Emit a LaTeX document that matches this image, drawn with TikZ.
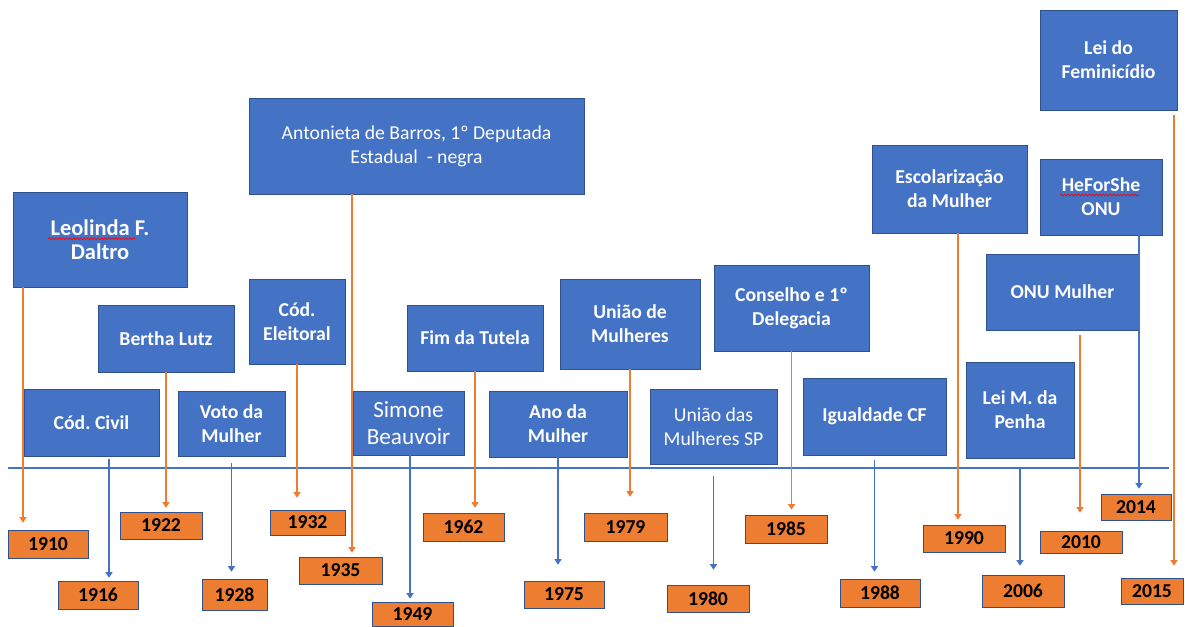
\documentclass[tikz,border=0pt]{standalone}
\usepackage{fontspec}
\setmainfont{Carlito}
\frenchspacing
\usetikzlibrary{arrows.meta,decorations.pathmorphing}
\definecolor{boxblue}{HTML}{4472C4}
\definecolor{edgeblue}{HTML}{2F528F}
\definecolor{boxorange}{HTML}{ED7D31}
\begin{document}
\begin{tikzpicture}[x = 0.025cm, y = -0.025cm,
    eventbox/.style = {draw = edgeblue, fill = boxblue, text = white, align = center, inner sep = 0pt, font = \fontsize{14}{17}\selectfont\bfseries},
    plaintext/.style = {font = \fontsize{14}{17}\selectfont},
    yearbox/.style = {draw = edgeblue, fill = boxorange, text = black, inner sep = 0pt, minimum width = 2.05cm, minimum height = 0.7cm, font = \fontsize{14}{17}\selectfont\bfseries},
    orarrow/.style = {boxorange, line width = 1pt, -{Triangle[width = 5pt, length = 4pt]}, shorten > = 0.125cm},
    blarrow/.style = {boxblue, line width = 1pt, -{Triangle[width = 5pt, length = 4pt]}, shorten > = 0.125cm},
    spell/.style = {red, line width = 0.5pt, decorate, decoration = {snake, amplitude = 0.6pt, segment length = 2.5pt}}]
  \clip (0,0) rectangle (1185,626);
  \fill[white] (0,0) rectangle (1185,626);
  % time line
  \coordinate (T0) at (8,468);
  \coordinate (T1) at (1169,468);
  \draw[boxblue, line width = 1pt] (T0) -- (T1);
  % event boxes
  \node[eventbox, minimum width = 4.35cm, minimum height = 2.375cm, font = \fontsize{16}{17.5}\selectfont\bfseries] at (100,239.5) (E1910) {Leolinda F.\\Daltro};
  \node[eventbox, minimum width = 3.375cm, minimum height = 1.675cm] at (91.5,422.5) (E1916) {Cód. Civil};
  \node[eventbox, minimum width = 3.4cm, minimum height = 1.675cm] at (166,338.5) (E1922) {Bertha Lutz};
  \node[eventbox, minimum width = 2.675cm, minimum height = 1.625cm] at (231.5,423.5) (E1928) {Voto da\\Mulher};
  \node[eventbox, minimum width = 2.4cm, minimum height = 2.125cm] at (297,321.5) (E1932) {Cód.\\Eleitoral};
  \node[eventbox, plaintext, minimum width = 8.375cm, minimum height = 2.4cm] at (416.5,146) (E1935) {Antonieta de Barros, 1º Deputada\\Estadual~~- negra};
  \node[eventbox, plaintext, minimum width = 2.775cm, minimum height = 1.6cm, font = \fontsize{16.5}{19}\selectfont] at (408.5,423) (E1949) {Simone\\Beauvoir};
  \node[eventbox, minimum width = 3.4cm, minimum height = 1.65cm] at (475,338) (E1962) {Fim da Tutela};
  \node[eventbox, minimum width = 3.45cm, minimum height = 1.65cm] at (558,424) (E1975) {Ano da\\Mulher};
  \node[eventbox, minimum width = 3.5cm, minimum height = 2.25cm] at (630,324) (E1979) {União de\\Mulheres};
  \node[eventbox, plaintext, minimum width = 3.175cm, minimum height = 1.875cm] at (713.5,426.5) (E1980) {União das\\Mulheres SP};
  \node[eventbox, minimum width = 3.875cm, minimum height = 2.15cm] at (791.5,308) (E1985) {Conselho e 1º\\Delegacia};
  \node[eventbox, minimum width = 3.575cm, minimum height = 1.925cm] at (874.5,416.5) (E1988) {Igualdade CF};
  \node[eventbox, minimum width = 3.875cm, minimum height = 2.2cm] at (949.5,189) (E1990) {Escolarização\\da Mulher};
  \node[eventbox, minimum width = 2.7cm, minimum height = 2.4cm] at (1020,410) (E2006) {Lei M. da\\Penha};
  \node[eventbox, minimum width = 3.825cm, minimum height = 1.9cm] at (1062.5,292) (E2010) {ONU Mulher};
  \node[eventbox, minimum width = 3.05cm, minimum height = 1.9cm] at (1101,197) (E2014) {HeForShe\\ONU};
  \node[eventbox, minimum width = 3.425cm, minimum height = 2.5cm] at (1108.5,60) (E2015) {Lei do\\Feminicídio};
  % spelling marks
  \draw[spell] ([xshift = -1.3cm, yshift = 0.02cm]E1910.center) -- ([xshift = 0.875cm, yshift = 0.02cm]E1910.center);
  \draw[spell] ([xshift = -1.025cm, yshift = 0.05cm]E2014.center) -- ([xshift = 0.95cm, yshift = 0.05cm]E2014.center);
  % years
  \node[yearbox, minimum width = 2cm] at (48,544) (Y1910) {1910};
  \node[yearbox, minimum width = 2cm] at (98,595) (Y1916) {1916};
  \node[yearbox, minimum height = 0.675cm] at (161,525.5) (Y1922) {1922};
  \node[yearbox, minimum width = 1.625cm, minimum height = 0.775cm] at (234.5,594.5) (Y1928) {1928};
  \node[yearbox, minimum width = 1.875cm, minimum height = 0.625cm] at (307.5,522.5) (Y1932) {1932};
  \node[yearbox, minimum width = 2.075cm, minimum height = 0.675cm] at (340.5,570.5) (Y1935) {1935};
  \node[yearbox, minimum width = 2.025cm, minimum height = 0.6cm] at (412.5,614) (Y1949) {1949};
  \node[yearbox, minimum width = 2.025cm] at (463.5,527) (Y1962) {1962};
  \node[yearbox, minimum width = 2cm, minimum height = 0.675cm] at (564,594.5) (Y1975) {1975};
  \node[yearbox, minimum width = 2.075cm] at (625.5,527) (Y1979) {1979};
  \node[yearbox, minimum height = 0.675cm] at (708,598.5) (Y1980) {1980};
  \node[yearbox] at (786,529) (Y1985) {1985};
  \node[yearbox, minimum width = 2cm] at (880,593) (Y1988) {1988};
  \node[yearbox, minimum height = 0.675cm] at (964,538.5) (Y1990) {1990};
  \node[yearbox, minimum height = 0.8cm] at (1023,591) (Y2006) {2006};
  \node[yearbox, minimum height = 0.55cm] at (1081,542) (Y2010) {2010};
  \node[yearbox, minimum width = 1.75cm, minimum height = 0.65cm] at (1136,507) (Y2014) {2014};
  \node[yearbox, minimum width = 1.55cm, minimum height = 0.65cm] at (1152,591) (Y2015) {2015};
  % arrows
  \draw[orarrow, shorten > = 0.175cm] ([xshift = -1.925cm]E1910.south) -- ([xshift = -1.925cm]E1910.south |- Y1910.north);
  \draw[blarrow, shorten < = 0.075cm, shorten > = 0.075cm] ([xshift = 0.4375cm]E1916.south) -- ([xshift = 0.4375cm]E1916.south |- Y1916.north);
  \draw[orarrow, shorten > = 0.1cm] (E1922.south) -- (E1922.south |- Y1922.north);
  \draw[blarrow, shorten < = 0.175cm, shorten > = 0.175cm] (E1928.south) -- (E1928.south |- Y1928.north);
  \draw[orarrow, shorten > = 0.3cm] (E1932.south) -- (E1932.south |- Y1932.north);
  \draw[orarrow, shorten > = 0.1cm] ([xshift = -1.6125cm]E1935.south) -- ([xshift = -1.6125cm]E1935.south |- Y1935.north);
  \draw[blarrow, shorten > = 0.075cm] ([xshift = 0.04cm]E1949.south) -- ([xshift = 0.04cm]E1949.south |- Y1949.north);
  \draw[orarrow] (E1962.south) -- (E1962.south |- Y1962.north);
  \draw[blarrow, shorten > = 0.4cm] (E1975.south) -- (E1975.south |- Y1975.north);
  \draw[orarrow, shorten > = 0.4cm] (E1979.south) -- (E1979.south |- Y1979.north);
  \draw[blarrow, shorten < = 0.3cm, shorten > = 0.375cm] (E1980.south) -- (E1980.south |- Y1980.north);
  \draw[orarrow] (E1985.south) -- (E1985.south |- Y1985.north);
  \draw[blarrow, shorten < = 0.125cm, shorten > = 0.175cm] (E1988.south) -- (E1988.south |- Y1988.north);
  \draw[orarrow] ([xshift = 0.2125cm]E1990.south) -- ([xshift = 0.2125cm]E1990.south |- Y1990.north);
  \draw[blarrow, shorten < = 0.275cm, shorten > = 0.225cm] (E2006.south) -- (E2006.south |- Y2006.north);
  \draw[orarrow, shorten < = 0.125cm, shorten > = 0.45cm] ([xshift = 0.4375cm]E2010.south) -- ([xshift = 0.4375cm]E2010.south |- Y2010.north);
  \draw[blarrow] ([xshift = 0.95cm]E2014.south) -- ([xshift = 0.95cm]E2014.south |- Y2014.north);
  \draw[orarrow, shorten < = 0.125cm, shorten > = 0.3cm] ([xshift = 1.6375cm]E2015.south) -- ([xshift = 1.6375cm]E2015.south |- Y2015.north);
\end{tikzpicture}
\end{document}
